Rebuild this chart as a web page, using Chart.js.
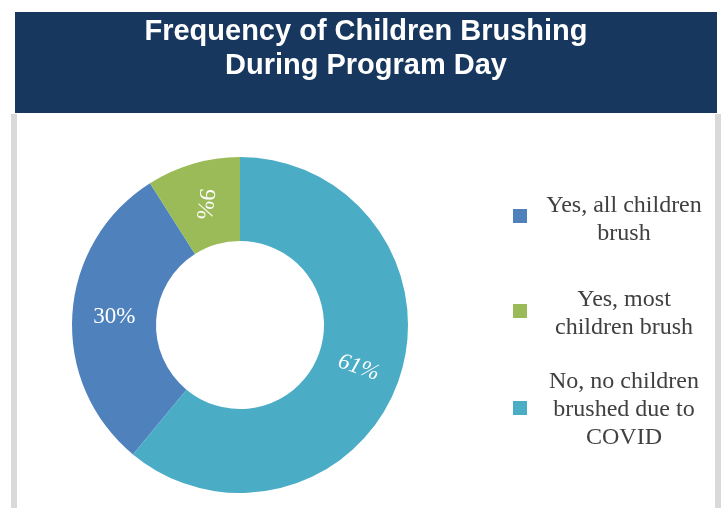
<!DOCTYPE html>
<html>
<head>
<meta charset="utf-8">
<script src="https://cdn.jsdelivr.net/npm/chart.js@4/dist/chart.umd.min.js"></script>
<style>
  html, body { margin: 0; padding: 0; background: #ffffff; }
  #wrap { position: relative; width: 723px; height: 508px; }
  canvas { display: block; }
</style>
</head>
<body>
<div id="wrap"><canvas id="c" width="723" height="508"></canvas></div>
<script>
// ---- data ----
const titleLines = ['Frequency of Children Brushing', 'During Program Day'];
const categories = ['Yes, all children brush', 'Yes, most children brush', 'No, no children brushed due to COVID'];
const legendLines = [['Yes, all children', 'brush'], ['Yes, most', 'children brush'], ['No, no children', 'brushed due to', 'COVID']];
const values = [30, 9, 61];
const valueLabels = ['30%', '9%', '61%'];

// ---- style ----
const colors = ['#4F81BD', '#9BBB59', '#4BACC6'];
const labelRotationDeg = [0, 97, 19];
const labelItalic = [false, false, true];
const legendBoxY = [216, 311, 408];
const legendFirstBaseline = [212, 306, 388];

const decorPlugin = {
  id: 'decor',
  beforeDraw(chart) {
    const ctx = chart.ctx;
    ctx.save();
    ctx.fillStyle = '#ffffff';
    ctx.fillRect(0, 0, chart.width, chart.height);
    ctx.fillStyle = '#D9D9D9';
    ctx.fillRect(11, 114, 6, 394);
    ctx.fillRect(715, 114, 6, 394);
    ctx.fillStyle = '#17375E';
    ctx.fillRect(15, 12, 702, 101);
    ctx.fillStyle = '#ffffff';
    ctx.font = 'bold 29px "Liberation Sans", Arial, sans-serif';
    ctx.textAlign = 'center';
    ctx.textBaseline = 'alphabetic';
    titleLines.forEach((t, i) => ctx.fillText(t, 366, 40 + i * 34));
    ctx.restore();
  },
  afterDraw(chart) {
    const ctx = chart.ctx;
    const meta = chart.getDatasetMeta(0);
    ctx.save();
    // value labels
    meta.data.forEach((arc, i) => {
      const p = arc.getProps(['x', 'y', 'startAngle', 'endAngle', 'innerRadius', 'outerRadius'], true);
      const mid = (p.startAngle + p.endAngle) / 2;
      const r = (p.innerRadius + p.outerRadius) / 2;
      const x = p.x + Math.cos(mid) * r;
      const y = p.y + Math.sin(mid) * r;
      ctx.save();
      ctx.translate(x, y);
      ctx.rotate(labelRotationDeg[i] * Math.PI / 180);
      ctx.fillStyle = '#ffffff';
      ctx.font = (labelItalic[i] ? 'italic ' : '') + '23px "Liberation Serif", "DejaVu Serif", serif';
      ctx.textAlign = 'center';
      ctx.textBaseline = 'middle';
      ctx.fillText(valueLabels[i], 0, 0);
      ctx.restore();
    });
    // legend
    legendLines.forEach((lines, i) => {
      ctx.fillStyle = colors[i];
      ctx.fillRect(513, legendBoxY[i] - 7, 14, 14);
      ctx.fillStyle = '#404040';
      ctx.font = '24px "Liberation Serif", "DejaVu Serif", serif';
      ctx.textAlign = 'center';
      ctx.textBaseline = 'alphabetic';
      lines.forEach((t, j) => ctx.fillText(t, 624, legendFirstBaseline[i] + j * 28));
    });
    ctx.restore();
  }
};

new Chart(document.getElementById('c'), {
  type: 'doughnut',
  data: {
    labels: categories,
    datasets: [{
      data: values,
      backgroundColor: colors,
      borderWidth: 0
    }]
  },
  options: {
    responsive: false,
    animation: false,
    rotation: 219.6,
    cutout: '50%',
    layout: { padding: { top: 157, bottom: 15, left: 72, right: 315 } },
    plugins: {
      legend: { display: false },
      tooltip: { enabled: false },
      title: { display: false }
    }
  },
  plugins: [decorPlugin]
});
</script>
</body>
</html>
